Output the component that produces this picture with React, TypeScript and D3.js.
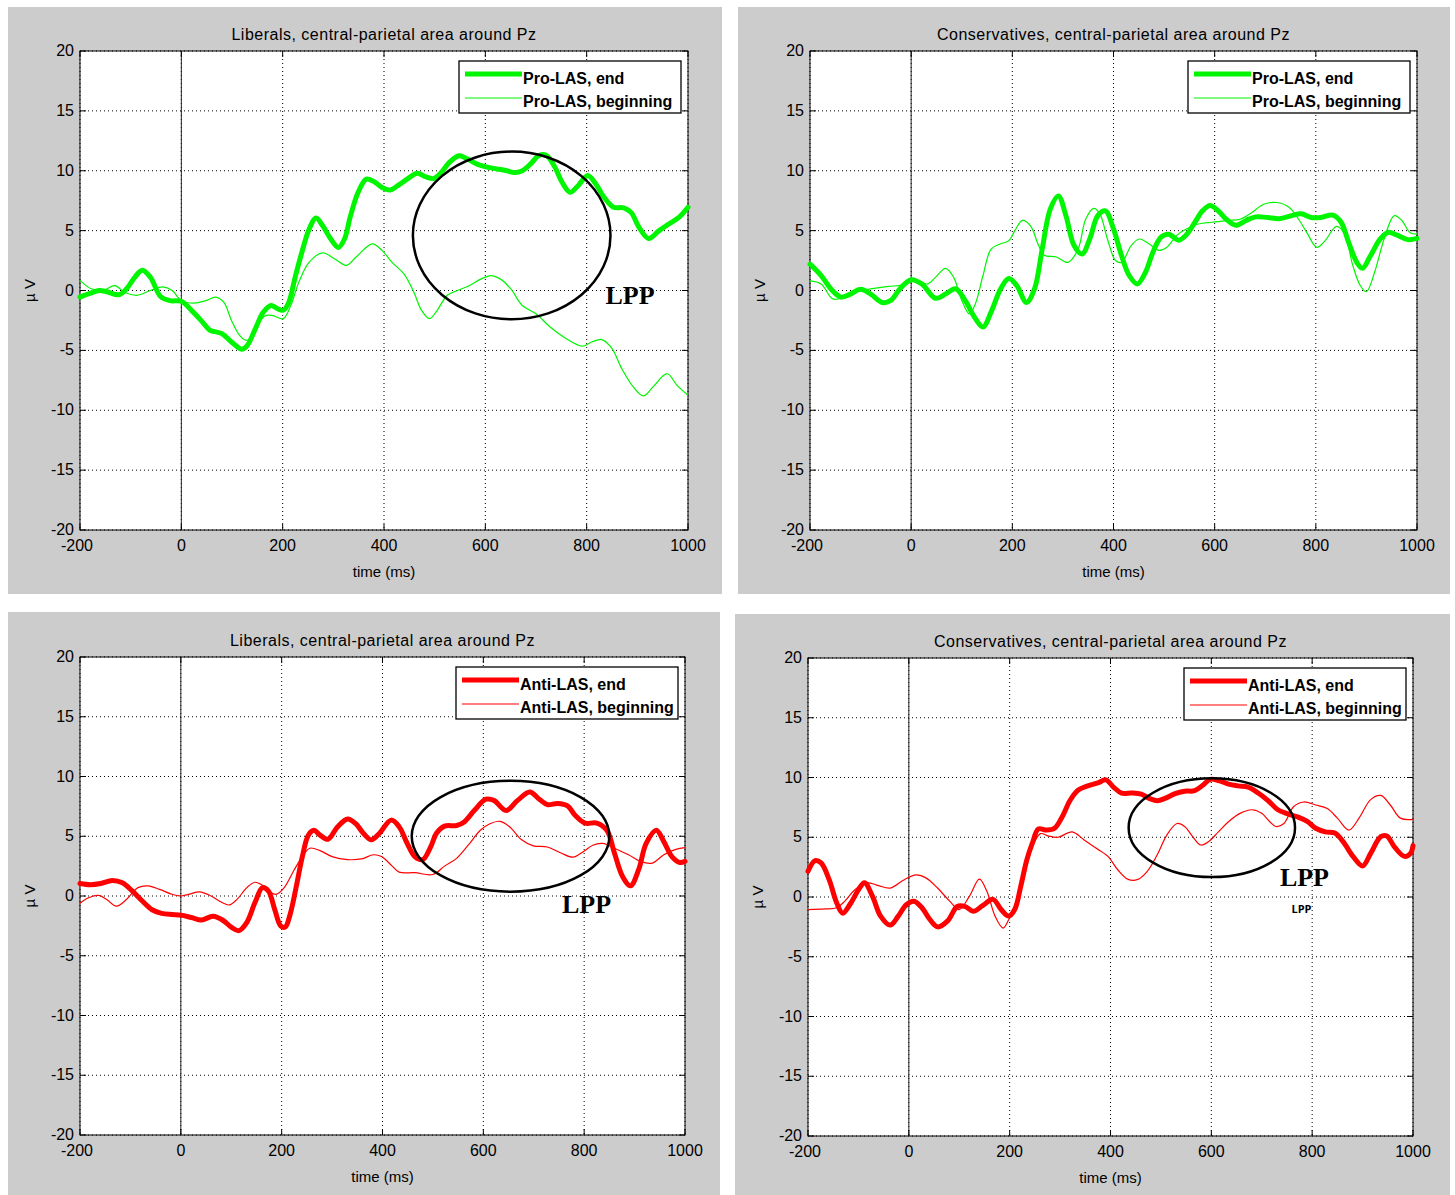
import React from 'react';
import * as d3 from 'd3';

// time (ms) / amplitude (µV) pairs
const libProEnd: [number, number][] = [
  [-200, -0.55], [-178, -0.2], [-162, 0], [-147, -0.1], [-123, -0.35], [-108, 0.15], [-92, 1.1], [-77, 1.7],
  [-61, 1.1], [-41, -0.5], [-22, -0.85], [0, -0.9], [21, -1.7], [41, -2.6], [56, -3.3], [80, -3.6], [99, -4.3],
  [119, -4.9], [130, -4.6], [146, -3.2], [162, -1.8], [177, -1.25], [189, -1.5], [201, -1.65], [212, -1],
  [224, 1.0], [236, 2.9], [252, 5.1], [266, 6.05], [279, 5.4], [295, 4.3], [310, 3.6], [322, 4.3], [334, 6.25],
  [349, 8.2], [365, 9.3], [380, 9.1], [396, 8.6], [412, 8.4], [427, 8.75], [447, 9.35], [466, 9.8], [482, 9.5],
  [498, 9.35], [513, 9.85], [529, 10.7], [548, 11.25], [564, 11.0], [584, 10.55], [603, 10.3], [623, 10.15],
  [642, 10.0], [658, 9.85], [673, 10.0], [689, 10.55], [705, 11.25], [720, 11.3], [736, 10.4], [752, 9.0],
  [767, 8.2], [783, 8.75], [802, 9.6], [818, 8.9], [834, 7.8], [853, 6.95], [873, 6.9], [888, 6.5], [903, 5.3],
  [922, 4.35], [943, 5.0], [962, 5.55], [982, 6.1], [1000, 6.95],
];
const libProBeg: [number, number][] = [
  [-200, 0.85], [-178, 0.15], [-155, 0], [-131, 0.4], [-112, -0.15], [-88, -0.4], [-61, 0], [-37, 0.3],
  [-18, 0], [0, -0.85], [25, -1.05], [48, -0.85], [68, -0.55], [84, -1.0], [99, -2.5], [115, -3.75],
  [127, -4.15], [138, -4.0], [150, -2.9], [166, -2.1], [181, -2.1], [201, -2.35], [216, -1.25], [232, 0.7],
  [252, 2.35], [279, 3.15], [302, 2.65], [326, 2.1], [345, 2.8], [377, 3.9], [396, 3.35], [416, 2.35],
  [439, 1.4], [459, -0.15], [474, -1.65], [490, -2.35], [505, -1.65], [525, -0.4], [545, 0], [568, 0.4],
  [591, 0.95], [611, 1.25], [630, 0.95], [650, 0.15], [673, -1.25], [700, -1.95], [728, -3.05], [759, -4.0],
  [791, -4.65], [810, -4.3], [830, -4.1], [850, -4.85], [869, -6.5], [892, -8.05], [912, -8.8], [931, -8.05],
  [959, -6.95], [978, -7.9], [1000, -8.75],
];
const conProEnd: [number, number][] = [
  [-200, 2.2], [-178, 1.25], [-159, 0.15], [-139, -0.55], [-120, -0.3], [-100, 0.1], [-80, -0.3], [-57, -1.0],
  [-41, -0.85], [-22, 0.15], [0, 0.9], [21, 0.55], [48, -0.65], [68, -0.3], [88, 0.15], [107, -0.85],
  [127, -2.35], [142, -3.05], [158, -1.8], [177, 0.15], [193, 1.0], [209, 0.4], [228, -1.0], [244, 0.15],
  [259, 3.45], [275, 6.8], [291, 7.9], [306, 6.25], [322, 3.75], [338, 3.05], [353, 4.3], [369, 6.25],
  [384, 6.65], [400, 5.15], [416, 2.9], [431, 1.25], [447, 0.55], [463, 1.5], [478, 3.2], [494, 4.45],
  [509, 4.7], [529, 4.2], [545, 4.7], [561, 5.7], [576, 6.65], [591, 7.1], [607, 6.65], [623, 5.95],
  [642, 5.45], [662, 5.85], [681, 6.15], [705, 6.1], [728, 6.0], [752, 6.25], [771, 6.4], [791, 6.1],
  [810, 6.1], [834, 6.3], [850, 5.7], [865, 4.0], [881, 2.35], [892, 1.85], [908, 2.9], [927, 4.3],
  [943, 4.85], [962, 4.6], [982, 4.25], [1000, 4.35],
];
const conProBeg: [number, number][] = [
  [-200, 0.8], [-178, 0.55], [-155, -0.7], [-131, -0.55], [-108, -0.1], [-77, 0.15], [-45, 0.35], [-18, 0.45],
  [0, 0.85], [33, 0.55], [48, 1.1], [68, 1.85], [84, 1.1], [99, -0.7], [115, -1.95], [127, -1.1], [142, 1.25],
  [158, 3.45], [177, 3.9], [193, 4.15], [205, 5.0], [220, 5.85], [236, 5.4], [252, 3.75], [263, 2.95],
  [287, 2.8], [310, 2.35], [330, 3.45], [345, 5.95], [361, 6.85], [373, 6.4], [388, 4.3], [404, 2.5],
  [416, 2.35], [435, 3.75], [451, 4.3], [470, 3.9], [490, 3.35], [505, 3.6], [525, 4.6], [545, 5.15],
  [568, 5.55], [595, 5.7], [627, 5.85], [650, 5.95], [673, 6.5], [697, 7.2], [723, 7.35], [747, 6.95],
  [766, 5.95], [782, 4.85], [802, 3.6], [818, 4.15], [841, 5.35], [857, 4.7], [873, 2.1], [888, 0.4],
  [900, -0.1], [916, 1.5], [935, 4.3], [955, 6.25], [970, 5.85], [986, 4.85], [1000, 4.7],
];
const libAntiEnd: [number, number][] = [
  [-200, 1.05], [-179, 0.95], [-159, 1.05], [-136, 1.3], [-116, 1.1], [-96, 0.4], [-77, -0.4], [-57, -1.15],
  [-38, -1.45], [-18, -1.55], [0, -1.6], [21, -1.8], [41, -2.0], [64, -1.7], [84, -2.05], [100, -2.6],
  [115, -2.9], [131, -2.2], [147, -0.55], [162, 0.7], [174, 0.4], [186, -1.1], [198, -2.5], [207, -2.6],
  [217, -1.5], [229, 0.8], [241, 3.3], [253, 5.1], [264, 5.5], [276, 5.1], [292, 4.75], [311, 5.8],
  [331, 6.45], [347, 6.05], [362, 5.25], [378, 4.7], [394, 5.25], [417, 6.35], [433, 5.8], [449, 4.4],
  [464, 3.3], [480, 3.05], [496, 4.15], [507, 5.25], [523, 5.85], [547, 5.9], [562, 6.2], [582, 7.15],
  [605, 8.1], [621, 8.0], [645, 7.15], [668, 8.0], [692, 8.7], [711, 8.1], [727, 7.65], [747, 7.75],
  [767, 7.55], [782, 6.75], [802, 6.1], [825, 6.1], [845, 5.5], [860, 3.6], [876, 1.65], [892, 0.85],
  [908, 2.2], [923, 4.4], [943, 5.5], [958, 4.55], [974, 3.3], [990, 2.8], [1000, 2.9],
];
const libAntiBeg: [number, number][] = [
  [-200, -0.6], [-183, -0.15], [-163, 0.05], [-147, -0.3], [-128, -0.85], [-108, -0.3], [-85, 0.7], [-65, 0.85],
  [-42, 0.55], [-18, 0.15], [0, 0], [17, 0.15], [37, 0.35], [60, 0], [80, -0.5], [96, -0.75], [111, -0.3],
  [131, 0.7], [147, 1.15], [162, 0.9], [178, 0.3], [190, 0.15], [205, 0.7], [225, 2.2], [241, 3.3], [256, 4.0],
  [276, 3.8], [300, 3.3], [331, 3.05], [358, 3.1], [382, 3.45], [398, 3.3], [417, 2.6], [433, 2.0], [464, 1.95],
  [500, 1.8], [523, 2.5], [547, 3.15], [570, 4.25], [594, 5.5], [613, 6.05], [633, 6.25], [652, 5.8],
  [676, 4.7], [699, 4.2], [727, 4.1], [754, 3.6], [778, 3.25], [798, 3.7], [817, 4.25], [837, 4.4],
  [860, 4.0], [888, 3.45], [911, 2.9], [935, 2.75], [958, 3.45], [982, 3.9], [1000, 4.05],
];
const conAntiEnd: [number, number][] = [
  [-200, 2.15], [-186, 3.05], [-174, 2.85], [-158, 1.45], [-143, -0.5], [-131, -1.35], [-115, -0.5], [-100, 0.6],
  [-88, 1.2], [-72, 0.05], [-56, -1.6], [-37, -2.35], [-21, -1.6], [-5, -0.65], [10, -0.35], [26, -0.9],
  [42, -1.9], [57, -2.5], [77, -2.0], [96, -0.8], [112, -0.8], [128, -1.2], [147, -0.7], [167, -0.2],
  [183, -1.05], [198, -1.6], [210, -1.05], [222, 0.9], [234, 3.1], [245, 4.5], [257, 5.7], [273, 5.6],
  [289, 5.75], [304, 6.7], [320, 8.1], [336, 8.95], [355, 9.3], [375, 9.55], [391, 9.8], [406, 9.2],
  [422, 8.7], [442, 8.7], [461, 8.6], [477, 8.25], [493, 8.05], [508, 8.25], [528, 8.65], [547, 8.85],
  [567, 8.9], [583, 9.35], [598, 9.85], [614, 9.75], [634, 9.45], [653, 9.3], [673, 9.2], [693, 8.7],
  [713, 8.05], [732, 7.3], [752, 6.95], [771, 6.7], [791, 6.3], [807, 5.75], [826, 5.45], [845, 5.35],
  [861, 4.65], [881, 3.4], [900, 2.6], [916, 3.65], [936, 5.05], [948, 5.1], [964, 4.15], [983, 3.4],
  [995, 3.65], [1000, 4.3],
];
const conAntiBeg: [number, number][] = [
  [-200, -1.05], [-166, -1.0], [-143, -0.9], [-127, -0.35], [-107, 0.6], [-84, 1.2], [-60, 0.95], [-37, 0.75],
  [-9, 1.45], [14, 1.85], [34, 1.6], [57, 0.75], [81, -0.35], [100, -1.05], [120, 0.05], [140, 1.5],
  [155, 0.45], [171, -1.6], [187, -2.6], [198, -1.9], [214, -0.2], [230, 2.55], [245, 4.2], [261, 5.3],
  [277, 5.1], [296, 5.0], [324, 5.45], [347, 4.8], [371, 4.1], [395, 3.4], [414, 2.3], [434, 1.5],
  [453, 1.45], [473, 2.15], [493, 3.55], [512, 5.2], [532, 6.15], [547, 5.9], [563, 5.05], [579, 4.35],
  [595, 4.65], [614, 5.45], [634, 6.3], [657, 7.0], [681, 7.3], [700, 7.0], [716, 6.3], [728, 5.9],
  [744, 6.15], [763, 7.55], [783, 7.95], [807, 7.7], [830, 7.4], [850, 6.6], [873, 5.6], [893, 6.6],
  [916, 8.15], [936, 8.5], [955, 7.7], [975, 6.6], [1000, 6.5],
];

const xTicks = [-200, 0, 200, 400, 600, 800, 1000];
const yTicks = [-20, -15, -10, -5, 0, 5, 10, 15, 20];

const titles = [
  'Liberals, central-parietal area around Pz',
  'Conservatives, central-parietal area around Pz',
  'Liberals, central-parietal area around Pz',
  'Conservatives, central-parietal area around Pz',
];
const proLabels = ['Pro-LAS, end', 'Pro-LAS, beginning'];
const antiLabels = ['Anti-LAS, end', 'Anti-LAS, beginning'];

// LPP ellipses: centre ms, centre µV, radius ms, radius µV
const lppEllipses = [
  { panel: 0, cx: 652, cy: 4.6, rx: 195, ry: 7.0 },
  { panel: 2, cx: 654, cy: 5.0, rx: 196, ry: 4.64 },
  { panel: 3, cx: 601, cy: 5.8, rx: 165, ry: 4.13 },
];
// LPP labels: left ms, baseline µV, big serif or small sans
const lppLabels = [
  { panel: 0, x: 837, y: -1.1, small: false },
  { panel: 2, x: 756, y: -1.45, small: false },
  { panel: 3, x: 736, y: 0.95, small: false },
  { panel: 3, x: 759, y: -1.35, small: true },
];

const panels = [
  { bg: [8, 7, 722, 594], plot: [80, 51, 688, 530], end: libProEnd, beg: libProBeg, color: '#00f500', labels: proLabels },
  { bg: [738, 7, 1450, 594], plot: [810, 51, 1417, 530], end: conProEnd, beg: conProBeg, color: '#00f500', labels: proLabels },
  { bg: [8, 612, 720, 1195], plot: [80, 657, 685, 1135], end: libAntiEnd, beg: libAntiBeg, color: '#ff0000', labels: antiLabels },
  { bg: [735, 614, 1450, 1195], plot: [808, 658, 1413, 1136], end: conAntiEnd, beg: conAntiBeg, color: '#ff0000', labels: antiLabels },
];

const sans = '"Liberation Sans", Arial, sans-serif';

const Panel = ({ idx }: { idx: number }) => {
  const p = panels[idx];
  const [bx0, by0, bx1, by1] = p.bg;
  const [px0, py0, px1, py1] = p.plot;
  const x = d3.scaleLinear().domain([-200, 1000]).range([px0, px1]);
  const y = d3.scaleLinear().domain([-20, 20]).range([py1, py0]);
  const line = d3.line<[number, number]>()
    .x(d => x(d[0]))
    .y(d => y(d[1]))
    .curve(d3.curveCatmullRom.alpha(0.5));

  const lx0 = px1 - 229;
  const ly0 = py0 + 10;
  const ell = lppEllipses.filter(e => e.panel === idx);
  const lpps = lppLabels.filter(l => l.panel === idx);

  return (
    <g>
      <rect x={bx0} y={by0} width={bx1 - bx0} height={by1 - by0} fill="#cccccc" />
      <rect x={px0} y={py0} width={px1 - px0} height={py1 - py0} fill="#ffffff" />
      {/* dotted grid */}
      {xTicks.map(t => (
        <line key={'gx' + t} x1={x(t)} x2={x(t)} y1={py0} y2={py1} stroke="#000" strokeWidth={1} strokeDasharray="1,3" />
      ))}
      {yTicks.map(t => (
        <line key={'gy' + t} x1={px0} x2={px1} y1={y(t)} y2={y(t)} stroke="#000" strokeWidth={1} strokeDasharray="1,3" />
      ))}
      {/* onset line */}
      <line x1={x(0)} x2={x(0)} y1={py0} y2={py1} stroke="#222" strokeWidth={1} />
      {/* ticks, inside */}
      {xTicks.map(t => (
        <g key={'tx' + t}>
          <line x1={x(t)} x2={x(t)} y1={py1} y2={py1 - 6} stroke="#000" />
          <line x1={x(t)} x2={x(t)} y1={py0} y2={py0 + 6} stroke="#000" />
          <text x={x(t) - (t === -200 ? 3 : 0)} y={py1 + 21} textAnchor="middle" fontFamily={sans} fontSize={16} fill="#000">{t}</text>
        </g>
      ))}
      {yTicks.map(t => (
        <g key={'ty' + t}>
          <line x1={px0} x2={px0 + 6} y1={y(t)} y2={y(t)} stroke="#000" />
          <line x1={px1} x2={px1 - 6} y1={y(t)} y2={y(t)} stroke="#000" />
          <text x={px0 - 6} y={y(t) + 5} textAnchor="end" fontFamily={sans} fontSize={16} fill="#000">{t}</text>
        </g>
      ))}
      <rect x={px0} y={py0} width={px1 - px0} height={py1 - py0} fill="none" stroke="#000" strokeWidth={1} />

      {/* curves */}
      <path d={line(p.end) || ''} fill="none" stroke={p.color} strokeWidth={5} strokeLinejoin="round" strokeLinecap="round" />
      <path d={line(p.beg) || ''} fill="none" stroke={p.color} strokeWidth={1.2} strokeLinejoin="round" />

      {/* annotations */}
      {ell.map((e, i) => (
        <ellipse key={'e' + i} cx={x(e.cx)} cy={y(e.cy)} rx={x(e.cx + e.rx) - x(e.cx)} ry={y(e.cy - e.ry) - y(e.cy)}
          fill="none" stroke="#000" strokeWidth={2.5} />
      ))}
      {lpps.map((l, i) => (
        <text key={'l' + i} x={x(l.x)} y={y(l.y)}
          fontFamily={l.small ? '"Open Sans", sans-serif' : '"Liberation Serif", "Times New Roman", serif'}
          fontWeight="bold" fontSize={l.small ? 11 : 26} fill="#000">LPP</text>
      ))}

      {/* legend */}
      <rect x={lx0} y={ly0} width={222} height={52} fill="#fff" stroke="#000" strokeWidth={1.3} />
      <line x1={lx0 + 6} x2={lx0 + 63} y1={ly0 + 13} y2={ly0 + 13} stroke={p.color} strokeWidth={5} />
      <line x1={lx0 + 6} x2={lx0 + 63} y1={ly0 + 37} y2={ly0 + 37} stroke={p.color} strokeWidth={1.2} />
      <text x={lx0 + 64} y={ly0 + 23} fontFamily={sans} fontWeight="bold" fontSize={16} fill="#000">{p.labels[0]}</text>
      <text x={lx0 + 64} y={ly0 + 46} fontFamily={sans} fontWeight="bold" fontSize={16} fill="#000">{p.labels[1]}</text>

      {/* titles */}
      <text x={(px0 + px1) / 2} y={py0 - 11} textAnchor="middle" fontFamily={sans} fontSize={16} letterSpacing={0.5} fill="#000">{titles[idx]}</text>
      <text x={(px0 + px1) / 2} y={py1 + 47} textAnchor="middle" fontFamily={sans} fontSize={15} fill="#000">time (ms)</text>
      <text transform={`translate(${px0 - 45},${(py0 + py1) / 2}) rotate(-90)`} textAnchor="middle"
        fontFamily={sans} fontSize={15} fill="#000">µ V</text>
    </g>
  );
};

export default function App() {
  return (
    <svg width={1455} height={1195} style={{ position: 'absolute', left: 0, top: 0, background: '#fff' }}>
      {panels.map((_, i) => <Panel key={i} idx={i} />)}
    </svg>
  );
}
